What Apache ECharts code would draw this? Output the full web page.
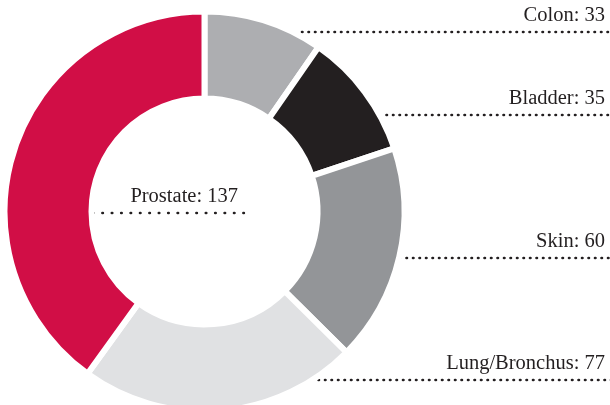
<!DOCTYPE html>
<html>
<head>
<meta charset="utf-8">
<script src="https://cdn.jsdelivr.net/npm/echarts@6/dist/echarts.min.js"></script>
<style>
html,body{margin:0;padding:0;background:#fff;}
#chart{width:610px;height:405px;}
</style>
</head>
<body>
<div id="chart"></div>
<script>
// ---- data ----
const categories = ['Colon', 'Bladder', 'Skin', 'Lung/Bronchus', 'Prostate'];
const values = [33, 35, 60, 77, 137];

// ---- styles / layout ----
const sliceColors = ['#adaeb1', '#231f20', '#939598', '#e0e1e3', '#d10e46'];
const textColor = '#231f20';
const labelLineY = [32, 115, 258, 380, 213];
const labelLineStartX = [302, 380, 400, 312, 93];
const labelLineEndX = [614, 614, 614, 614, 244];
const labelRightX = [605, 605, 605, 605, 238];

const chart = echarts.init(document.getElementById('chart'), null, {renderer: 'canvas'});

const data = categories.map((name, i) => ({
  name: name,
  value: values[i],
  itemStyle: {color: sliceColors[i]},
  labelLine: {
    lineStyle: i === 4
      ? {type: [0.5, 8.9], width: 2.6, cap: 'round', color: textColor}
      : {type: [0.5, 6.0], width: 2.6, cap: 'round', color: textColor}
  }
}));

chart.setOption({
  animation: false,
  series: [{
    type: 'pie',
    center: [204.5, 211.5],
    radius: [113, 200],
    startAngle: 90,
    clockwise: true,
    avoidLabelOverlap: false,
    itemStyle: {borderColor: '#ffffff', borderWidth: 6},
    emphasis: {disabled: true},
    label: {
      show: true,
      position: 'outside',
      formatter: '{b}: {c}',
      fontFamily: 'Liberation Serif',
      fontSize: 20.5,
      color: textColor
    },
    labelLine: {show: true, smooth: false},
    labelLayout: function (params) {
      const i = params.dataIndex;
      const ly = labelLineY[i];
      const sx = labelLineStartX[i];
      return {
        x: labelRightX[i],
        y: ly - 16,
        align: 'right',
        verticalAlign: 'middle',
        labelLinePoints: [
          [sx - 0.01, ly],
          [sx, ly],
          [labelLineEndX[i], ly]
        ]
      };
    },
    data: data
  }]
});
</script>
</body>
</html>
